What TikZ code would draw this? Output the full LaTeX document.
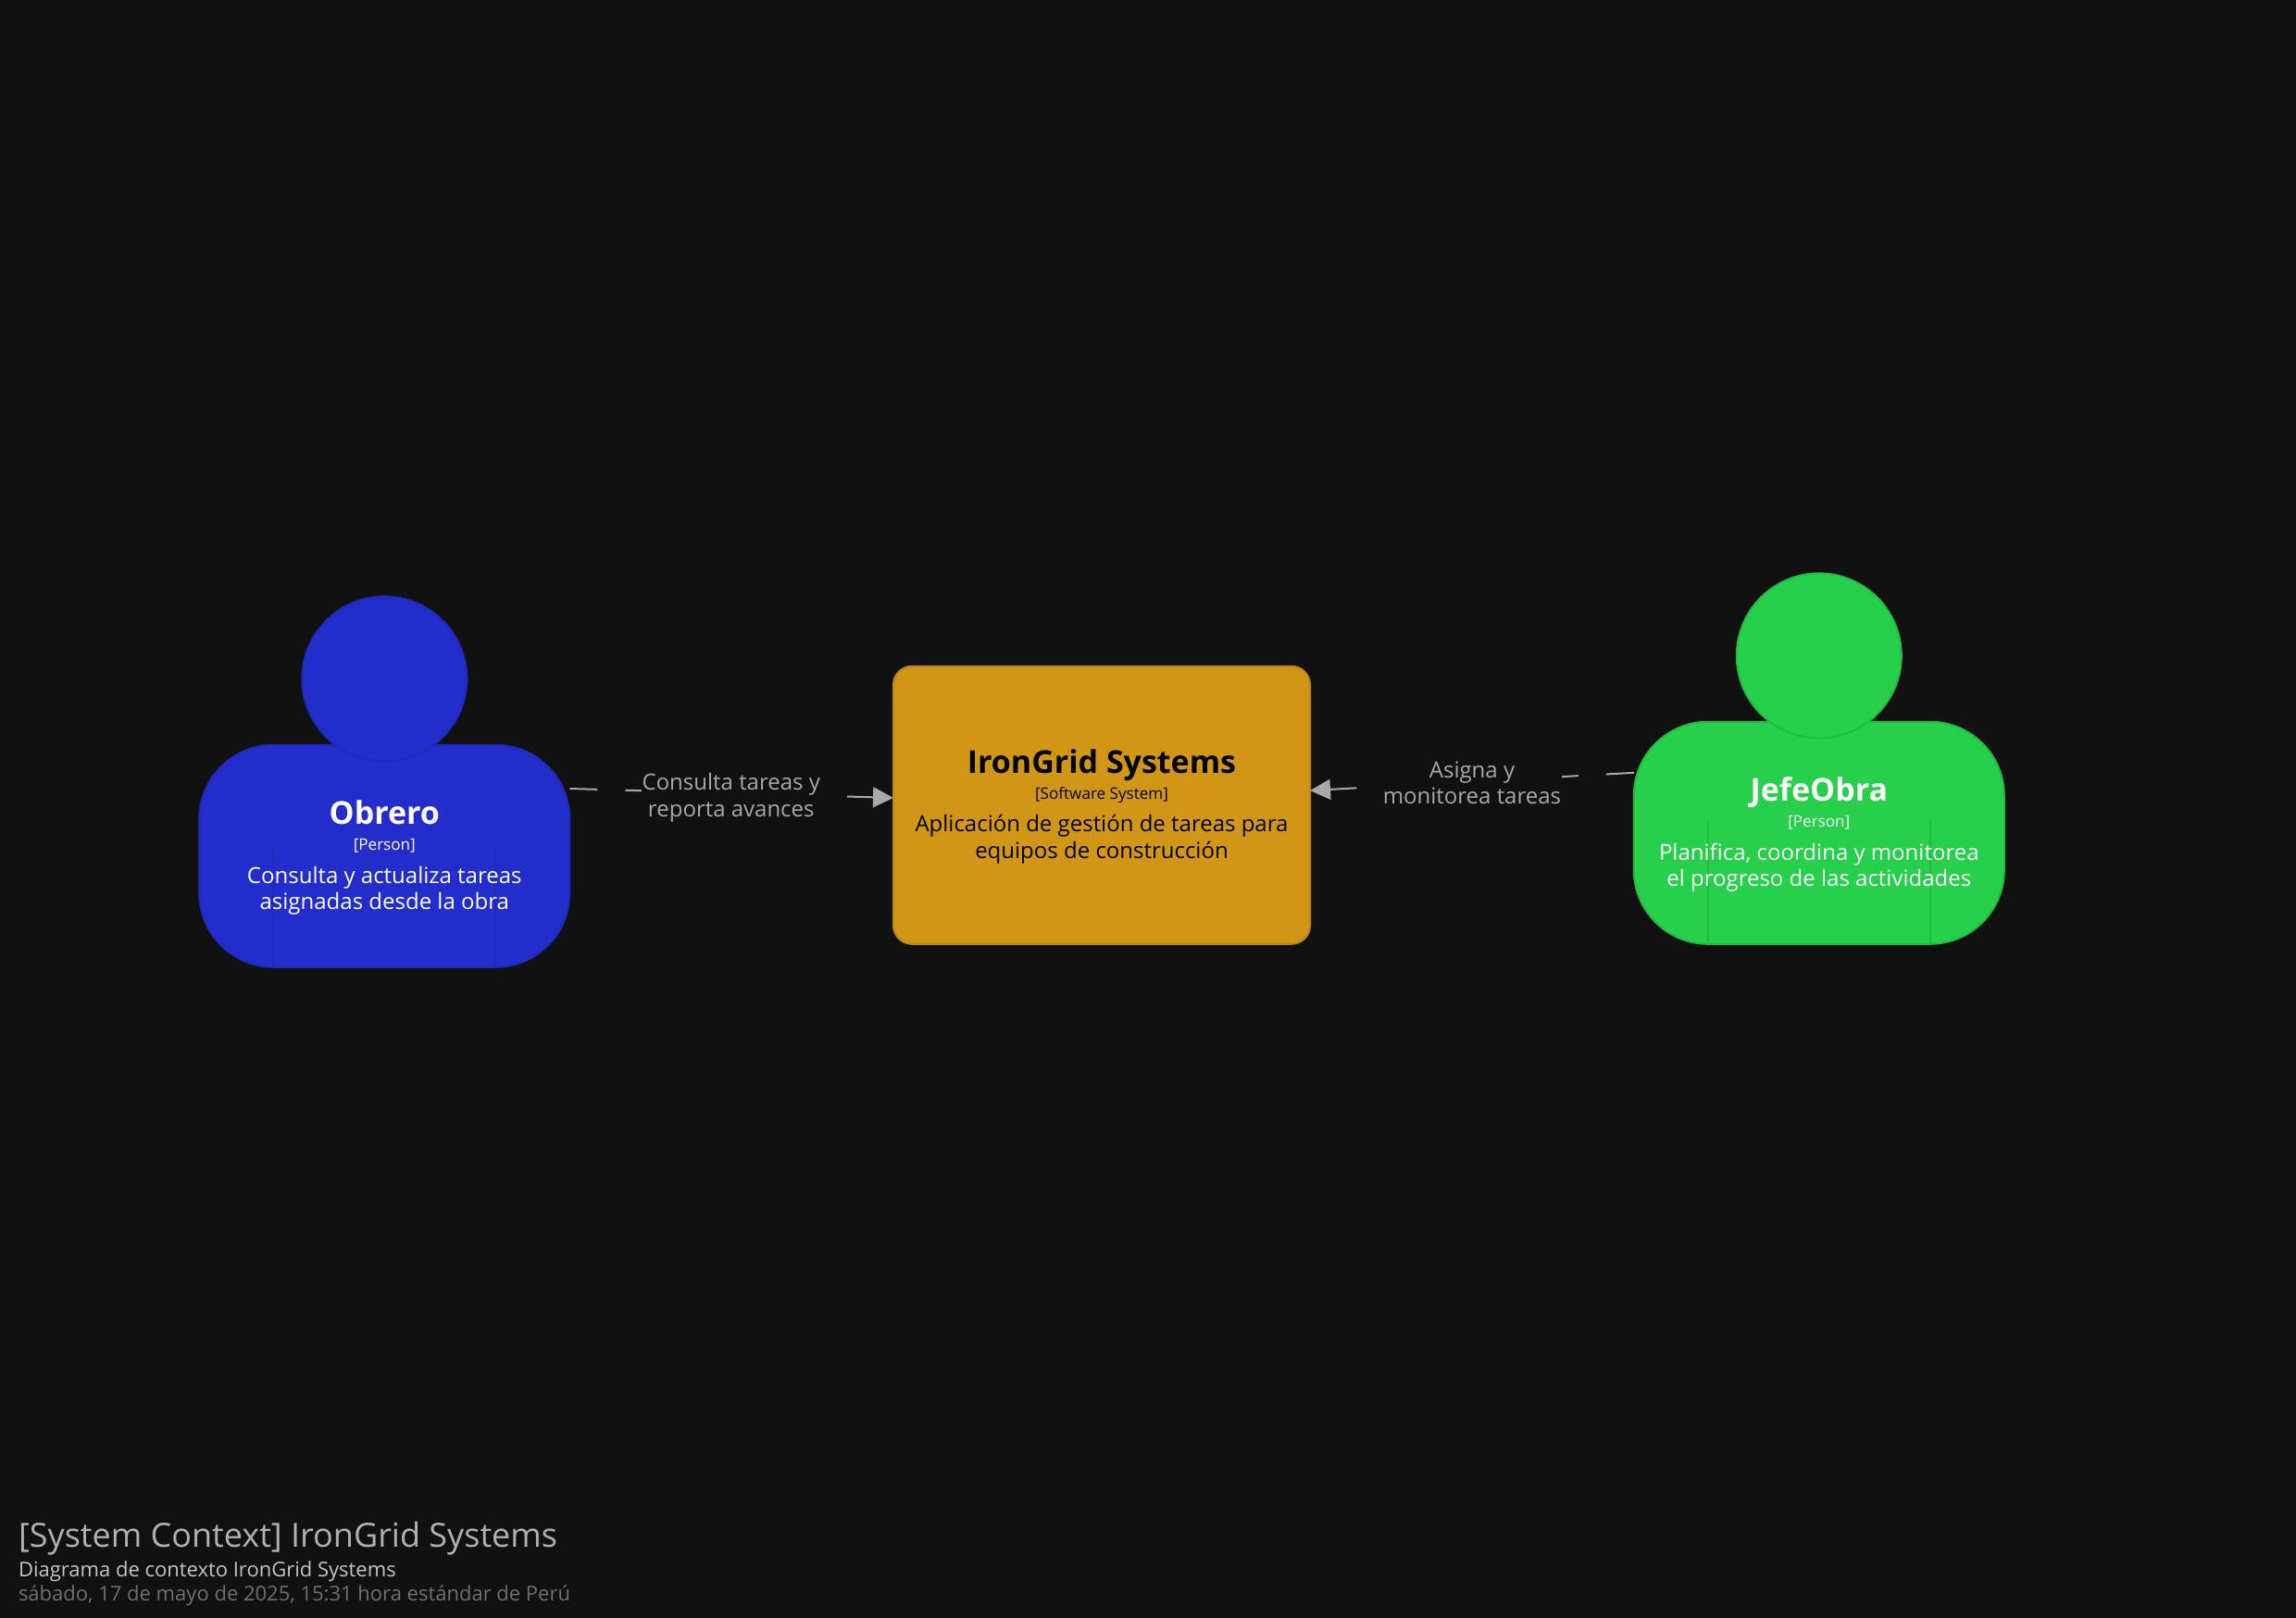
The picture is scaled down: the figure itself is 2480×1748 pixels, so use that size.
\documentclass[tikz,border=0pt]{standalone}
\usepackage{fontspec}
\setmainfont{Open Sans}
\usetikzlibrary{arrows.meta}
\definecolor{bgc}{HTML}{111111}
\definecolor{bluef}{HTML}{232DCC}
\definecolor{blued}{HTML}{2029B8}
\definecolor{greenf}{HTML}{26D04B}
\definecolor{greend}{HTML}{22BB44}
\definecolor{goldf}{HTML}{D19615}
\definecolor{goldd}{HTML}{BC8713}
\definecolor{linec}{HTML}{A9A9A9}
\definecolor{titlec}{HTML}{B0B0B0}
\definecolor{subc}{HTML}{C4C4C4}
\definecolor{datec}{HTML}{707070}
\tikzset{
  x=0.5pt,y=-0.5pt,
  txt/.style={inner sep=0pt,outer sep=0pt,anchor=base,align=center},
  nametxt/.style={txt,font=\fontsize{17}{17}\selectfont\bfseries},
  metatxt/.style={txt,font=\fontsize{8.55}{8.55}\selectfont},
  desctxt/.style={txt,font=\fontsize{12}{14}\selectfont},
  foot/.style={inner sep=0pt,outer sep=0pt,anchor=base west},
  personbody/.style={draw,line width=1pt,minimum width=200pt,minimum height=120pt,inner sep=0pt,outer sep=0pt,rounded corners=40pt},
  personhead/.style={draw,circle,line width=1pt,minimum size=89pt,inner sep=0pt,outer sep=0pt},
  sysbox/.style={draw,line width=1pt,minimum width=225pt,minimum height=150pt,inner sep=0pt,outer sep=0pt,rounded corners=10pt},
  rel/.style={draw=linec,line width=1pt,dash pattern=on 15pt off 15pt,-{Triangle[length=11pt,width=11pt,fill=linec]}},
  rellabel/.style={fill=bgc,text=linec,font=\fontsize{12}{14.3}\selectfont,align=center,inner sep=0.5pt,outer sep=0pt},
}
\begin{document}
\begin{tikzpicture}
\useasboundingbox (0,0) rectangle (2480,1748);
\fill[bgc] (0,0) rectangle (2480,1748);

% Obrero
\node[personbody,fill=bluef,draw=blued] (obrero) at (415.3,924.8) {};
\coordinate (oa) at (294.8,911.7);
\coordinate (ob) at (534.8,911.7);
\draw[blued,line width=1pt] (oa) -- (oa |- obrero.south);
\draw[blued,line width=1pt] (ob) -- (ob |- obrero.south);
\node[personhead,fill=bluef,draw=blued] (obreroh) at (415.3,733.4) {};
\node[nametxt,text=white] (obreron) at (415.3,890.5) {Obrero};
\node[metatxt,text=white] (obrerom) at (415.3,918.5) {[Person]};
\node[desctxt,text=white] (obrerod1) at (415.3,954) {Consulta y actualiza tareas};
\node[desctxt,text=white] (obrerod2) at (415.3,982.5) {asignadas desde la obra};

% System
\node[sysbox,fill=goldf,draw=goldd] (sys) at (1190,869.8) {};
\node[nametxt,text=black] (sysn) at (1190,835.5) {IronGrid Systems};
\node[metatxt,text=black] (sysm) at (1190,863.8) {[Software System]};
\node[desctxt,text=black] (sysd1) at (1190,899) {Aplicación de gestión de tareas para};
\node[desctxt,text=black] (sysd2) at (1190,927.5) {equipos de construcción};

% JefeObra
\node[personbody,fill=greenf,draw=greend] (jefe) at (1964.8,899.8) {};
\coordinate (ja) at (1844.6,886.7);
\coordinate (jb) at (2085,886.7);
\draw[greend,line width=1pt] (ja) -- (ja |- jefe.south);
\draw[greend,line width=1pt] (jb) -- (jb |- jefe.south);
\node[personhead,fill=greenf,draw=greend] (jefeh) at (1964.8,708.4) {};
\node[nametxt,text=white] (jefen) at (1964.8,865.5) {JefeObra};
\node[metatxt,text=white] (jefem) at (1964.8,893.5) {[Person]};
\node[desctxt,text=white] (jefed1) at (1964.8,929) {Planifica, coordina y monitorea};
\node[desctxt,text=white] (jefed2) at (1964.8,957.5) {el progreso de las actividades};

% Connectors
\draw[rel] (obrero.20.2) -- (sys.178.15);
\draw[rel] (jefe.162.2) -- (sys.4.05);
\node[rellabel] (l1) at (789.8,862) {Consulta tareas y\\reporta avances};
\node[rellabel] (l2) at (1590,846) {Asigna y\\monitorea tareas};

% Footer
\node[foot,text=titlec,font=\fontsize{18}{18}\selectfont] (ftitle) at (20,1671.7) {[System Context] IronGrid Systems};
\node[foot,text=subc,font=\fontsize{11}{11}\selectfont] (fsub) at (20,1703.5) {Diagrama de contexto IronGrid Systems};
\node[foot,text=datec,font=\fontsize{11}{11}\selectfont] (fdate) at (20,1729.5) {sábado, 17 de mayo de 2025, 15:31 hora estándar de Perú};
\end{tikzpicture}
\end{document}
